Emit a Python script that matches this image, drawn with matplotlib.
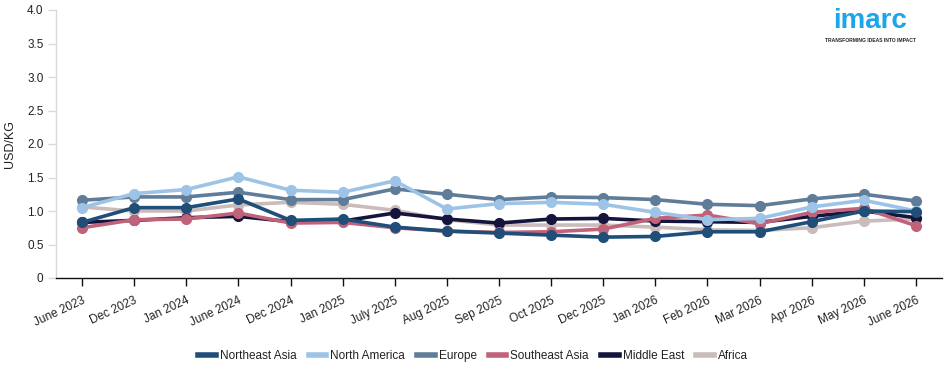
import matplotlib
matplotlib.use("Agg")
import matplotlib.pyplot as plt
from matplotlib.ticker import FuncFormatter

plt.rcParams['font.family'] = ['Liberation Sans', 'DejaVu Sans']

categories = ["June 2023", "Dec 2023", "Jan 2024", "June 2024", "Dec 2024", "Jan 2025",
              "July 2025", "Aug 2025", "Sep 2025", "Oct 2025", "Dec 2025", "Jan 2026",
              "Feb 2026", "Mar 2026", "Apr 2026", "May 2026", "June 2026"]

northeast_asia = [0.83, 1.05, 1.05, 1.18, 0.86, 0.88, 0.76, 0.70, 0.67, 0.64, 0.61, 0.62, 0.69, 0.69, 0.84, 1.00, 0.99]
north_america = [1.05, 1.26, 1.32, 1.51, 1.31, 1.28, 1.45, 1.03, 1.11, 1.13, 1.10, 0.98, 0.87, 0.89, 1.06, 1.16, 1.00]
europe = [1.16, 1.21, 1.21, 1.28, 1.17, 1.17, 1.33, 1.25, 1.17, 1.21, 1.20, 1.17, 1.10, 1.08, 1.18, 1.25, 1.15]
southeast_asia = [0.75, 0.87, 0.88, 0.97, 0.82, 0.83, 0.75, 0.70, 0.68, 0.69, 0.73, 0.89, 0.94, 0.81, 0.98, 1.04, 0.78]
middle_east = [0.83, 0.86, 0.90, 0.92, 0.84, 0.85, 0.97, 0.88, 0.82, 0.88, 0.89, 0.85, 0.84, 0.83, 0.92, 1.00, 0.90]
africa = [1.06, 1.00, 1.00, 1.09, 1.13, 1.10, 1.01, 0.87, 0.79, 0.79, 0.79, 0.76, 0.72, 0.71, 0.75, 0.85, 0.88]

series = [
    ("Northeast Asia", northeast_asia, "#1f4e79"),
    ("North America", north_america, "#9dc3e6"),
    ("Europe", europe, "#5f7d99"),
    ("Southeast Asia", southeast_asia, "#c0627a"),
    ("Middle East", middle_east, "#14143c"),
    ("Africa", africa, "#cbbcbc"),
]

fig = plt.figure(figsize=(9.5, 3.73), dpi=100)
ax = fig.add_axes([56/950, 1-278/373, (942-56)/950, (278-10)/373])

x = list(range(len(categories)))
n = len(series)
for i, (name, vals, col) in enumerate(series):
    ax.plot(x, vals, color=col, lw=2.6, marker='o', markersize=7, label=name,
            zorder=10 + (n - i), clip_on=False)

ax.set_xlim(-0.5, len(categories) - 0.5)
ax.set_ylim(0, 4.0)
ax.set_yticks([0, 0.5, 1.0, 1.5, 2.0, 2.5, 3.0, 3.5, 4.0])
ax.yaxis.set_major_formatter(FuncFormatter(lambda v, p: "0" if v == 0 else f"{v:.1f}"))
ax.set_xticks(x)
ax.set_xticklabels(categories, rotation=25, ha='right', rotation_mode='anchor')
ax.tick_params(axis='x', labelsize=8.5, labelcolor='#222222', color='#111111',
               length=6, width=1, pad=6)
ax.tick_params(axis='y', labelsize=8.5, labelcolor='#222222', color='#d9d9d9',
               length=6, width=1, pad=3)
for s in ['top', 'right']:
    ax.spines[s].set_visible(False)
ax.spines['left'].set_color('#d9d9d9')
ax.spines['left'].set_linewidth(1)
ax.spines['bottom'].set_color('#111111')
ax.spines['bottom'].set_linewidth(1)
ax.set_ylabel("USD/KG", fontsize=9, color='#222222', labelpad=8)

leg = fig.legend(loc='center', bbox_to_anchor=(473/950, 1-356/373), ncol=6, frameon=False,
                 fontsize=8.5, handlelength=1.5, handletextpad=0.35, columnspacing=1.0,
                 labelcolor='#222222')
for h in leg.legend_handles:
    h.set_marker('')
    h.set_linewidth(4)

fig.text(870/950, 1-21/373, "imarc", color='#1ba6ea', fontsize=20, fontweight='bold',
         ha='center', va='center')
fig.text(870/950, 1-40/373, "TRANSFORMING IDEAS INTO IMPACT", color='#222222', fontsize=3.6,
         fontweight='bold', ha='center', va='center')

fig.savefig("out.png", dpi=100)
